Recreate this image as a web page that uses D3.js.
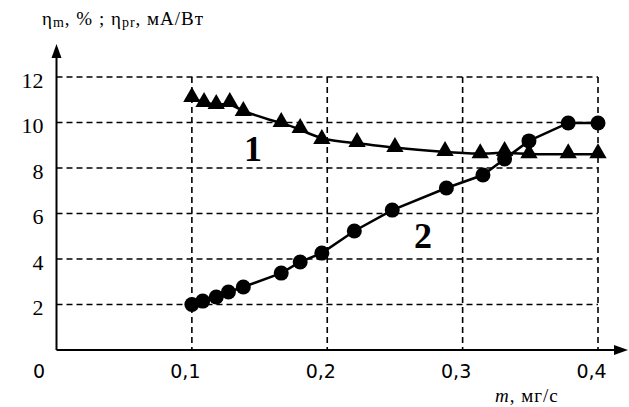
<!DOCTYPE html>
<html>
<head>
<meta charset="utf-8">
<script src="https://cdn.jsdelivr.net/npm/d3@7"></script>
<style>
  body { margin: 0; background: #fff; }
  svg { display: block; }
  .xtick { font-family: 'DejaVu Sans', Verdana, sans-serif; font-size: 19px; fill: #000; }
  .ytick { font-family: 'Liberation Serif', 'Times New Roman', serif; font-size: 22px; fill: #000; }
  .serif { font-family: 'Liberation Serif', 'Times New Roman', serif; fill: #000; }
</style>
</head>
<body>
<div id="chart"></div>
<script>
// series 1 (triangles) and series 2 (circles), m in mg/s
const m1 = [0.100, 0.109, 0.118, 0.128, 0.138, 0.166, 0.180, 0.196, 0.222, 0.250, 0.287, 0.313, 0.331, 0.349, 0.378, 0.400];
const eta1 = [11.08, 10.86, 10.77, 10.86, 10.46, 9.98, 9.71, 9.23, 9.1, 8.88, 8.70, 8.6, 8.7, 8.6, 8.6, 8.6];

const m2 = [0.100, 0.108, 0.118, 0.127, 0.138, 0.166, 0.180, 0.196, 0.220, 0.248, 0.288, 0.315, 0.331, 0.349, 0.378, 0.400];
const eta2 = [2.0, 2.15, 2.33, 2.55, 2.77, 3.38, 3.87, 4.26, 5.23, 6.15, 7.12, 7.69, 8.4, 9.19, 9.98, 9.98];

const xTicks = [0.1, 0.2, 0.3, 0.4];
const yTicks = [2, 4, 6, 8, 10, 12];

const width = 629, height = 407;
const x = d3.scaleLinear().domain([0, 0.4]).range([56.5, 598]);
const y = d3.scaleLinear().domain([0, 12]).range([350, 77]);

const svg = d3.select('#chart').append('svg')
  .attr('width', width)
  .attr('height', height);

// grid
const grid = svg.append('g')
  .attr('stroke', '#000')
  .attr('stroke-width', 1.6)
  .attr('stroke-dasharray', '6,4');
grid.selectAll('.hg').data(yTicks).enter().append('line')
  .attr('x1', x(0)).attr('x2', x(0.4))
  .attr('y1', d => y(d)).attr('y2', d => y(d));
grid.selectAll('.vg').data(xTicks).enter().append('line')
  .attr('x1', d => x(d)).attr('x2', d => x(d))
  .attr('y1', y(12)).attr('y2', y(0));

// axes
const xAxis = d3.axisBottom(x).tickValues(xTicks).tickSize(0)
  .tickFormat(d => d3.format('.1f')(d).replace('.', ','));
svg.append('g')
  .attr('transform', 'translate(0,' + y(0) + ')')
  .call(xAxis)
  .call(g => g.select('.domain').remove())
  .call(g => g.selectAll('.tick text')
    .attr('class', 'xtick')
    .attr('dx', -7)
    .attr('y', 28)
    .attr('dy', 0));

const yAxis = d3.axisLeft(y).tickValues(yTicks).tickSize(0);
svg.append('g')
  .attr('transform', 'translate(' + x(0) + ',0)')
  .call(yAxis)
  .call(g => g.select('.domain').remove())
  .call(g => g.selectAll('.tick text')
    .attr('class', 'ytick')
    .attr('x', -13)
    .attr('dy', 10));

svg.append('text')
  .attr('class', 'xtick')
  .attr('x', 39)
  .attr('y', y(0) + 28)
  .attr('text-anchor', 'middle')
  .text('0');

// axis lines with arrows
svg.append('line')
  .attr('x1', x(0)).attr('x2', 618)
  .attr('y1', y(0)).attr('y2', y(0))
  .attr('stroke', '#000').attr('stroke-width', 2);
svg.append('path')
  .attr('d', 'M628,' + y(0) + ' L614,' + (y(0) - 5) + ' L614,' + (y(0) + 5) + 'Z')
  .attr('fill', '#000');
svg.append('line')
  .attr('x1', x(0)).attr('x2', x(0))
  .attr('y1', y(0)).attr('y2', 54)
  .attr('stroke', '#000').attr('stroke-width', 2);
svg.append('path')
  .attr('d', 'M' + x(0) + ',44 L' + (x(0) - 5) + ',58 L' + (x(0) + 5) + ',58Z')
  .attr('fill', '#000');

// series
const data1 = m1.map((d, i) => ({ m: d, v: eta1[i] }));
const data2 = m2.map((d, i) => ({ m: d, v: eta2[i] }));

const line1 = d3.line().x(d => x(d.m)).y(d => y(d.v)).curve(d3.curveBasis);
const line2 = d3.line().x(d => x(d.m)).y(d => y(d.v));

svg.append('path')
  .attr('d', line1(data1))
  .attr('fill', 'none').attr('stroke', '#000').attr('stroke-width', 2.5);
svg.append('path')
  .attr('d', line2(data2))
  .attr('fill', 'none').attr('stroke', '#000').attr('stroke-width', 2.5);

const tri = d3.symbol().type(d3.symbolTriangle).size(130);
svg.selectAll('.tri').data(data1).enter().append('path')
  .attr('d', tri)
  .attr('transform', d => 'translate(' + x(d.m) + ',' + (y(d.v) - 1) + ')')
  .attr('fill', '#000');

svg.selectAll('.dot').data(data2).enter().append('circle')
  .attr('cx', d => x(d.m))
  .attr('cy', d => y(d.v))
  .attr('r', 7.5)
  .attr('fill', '#000');

// curve labels
svg.append('text').attr('class', 'serif')
  .attr('x', 253).attr('y', 161)
  .attr('text-anchor', 'middle')
  .style('font-size', '36px').style('font-weight', 'bold')
  .text('1');
svg.append('text').attr('class', 'serif')
  .attr('x', 423).attr('y', 248)
  .attr('text-anchor', 'middle')
  .style('font-size', '36px').style('font-weight', 'bold')
  .text('2');

// axis titles
const yt = svg.append('text').attr('class', 'serif')
  .attr('x', 42).attr('y', 25)
  .style('font-size', '19px')
  .style('letter-spacing', '1px');
yt.append('tspan').text('η');
yt.append('tspan').attr('dy', 2).style('font-size', '14px').text('m');
yt.append('tspan').attr('dy', -2).text(', % ; η');
yt.append('tspan').attr('dy', 2).style('font-size', '14px').text('pr');
yt.append('tspan').attr('dy', -2).text(', мА/Вт');

const xt = svg.append('text').attr('class', 'serif')
  .attr('x', 495).attr('y', 402)
  .style('font-size', '19px')
  .style('letter-spacing', '1px');
xt.append('tspan').style('font-style', 'italic').text('m');
xt.append('tspan').text(', мг/с');
</script>
</body>
</html>
